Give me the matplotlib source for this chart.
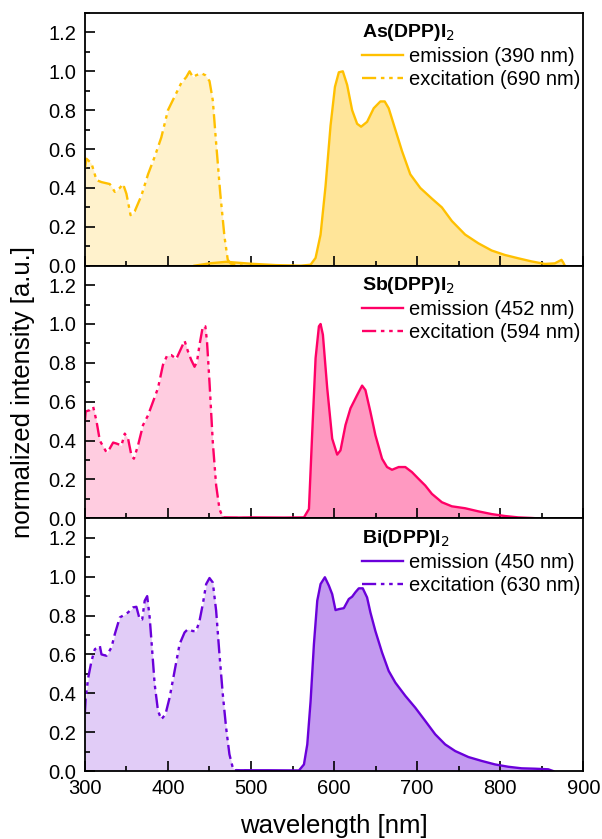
import matplotlib.pyplot as plt
import numpy as np
from matplotlib.ticker import MultipleLocator

plt.rcParams['font.family'] = ['Liberation Sans', 'DejaVu Sans']

# ---- As(DPP)I2 ----
as_exc_x = [300, 302, 308, 314, 320, 330, 336, 342, 346, 350, 355, 360, 368, 376, 384, 392, 400, 408,
            416, 422, 426, 430, 434, 440, 445, 450, 454, 458, 463, 468, 472, 476, 490]
as_exc_y = [0.50, 0.55, 0.526, 0.44, 0.43, 0.42, 0.38, 0.40, 0.42, 0.37, 0.26, 0.28, 0.36, 0.47, 0.56,
            0.66, 0.80, 0.87, 0.94, 0.97, 1.0, 0.97, 0.98, 0.99, 0.98, 0.95, 0.85, 0.63, 0.37, 0.15,
            0.03, 0.01, 0.0]
as_em_x = [432, 450, 470, 500, 530, 560, 571.7, 577.7, 583.7, 589.7, 595.7, 601, 605.7, 610.5, 615.7,
           621.7, 627.7, 632.5, 639.7, 647.7, 655.7, 660.9, 665.7, 673.7, 681.7, 691.7, 703.7, 717.7,
           729.7, 741.7, 757.7, 773.7, 789.7, 805.7, 821.7, 837.7, 853.7, 865.7, 873.7, 875.7, 877.7]
as_em_y = [0.0, 0.012, 0.02, 0.01, 0.003, 0.0, 0.005, 0.04, 0.16, 0.41, 0.72, 0.92, 0.995, 1.0, 0.93,
           0.80, 0.73, 0.715, 0.74, 0.81, 0.845, 0.845, 0.81, 0.70, 0.59, 0.47, 0.40, 0.345, 0.30, 0.23,
           0.16, 0.115, 0.078, 0.055, 0.038, 0.022, 0.009, 0.012, 0.03, 0.017, 0.0]

# ---- Sb(DPP)I2 ----
sb_exc_x = [300, 301, 306, 310, 314, 318, 326, 330, 334, 338, 344, 348, 352, 356, 359, 364, 370, 376,
            382, 388, 394, 399, 404, 410, 416, 420, 424, 428, 432, 435, 438, 442, 445, 447, 450, 454,
            458, 462, 466, 500]
sb_exc_y = [0.50, 0.55, 0.557, 0.574, 0.50, 0.40, 0.34, 0.36, 0.39, 0.385, 0.375, 0.436, 0.41, 0.324,
            0.307, 0.376, 0.48, 0.53, 0.60, 0.67, 0.79, 0.838, 0.84, 0.82, 0.876, 0.914, 0.86, 0.815,
            0.78, 0.807, 0.893, 0.988, 0.988, 0.91, 0.70, 0.39, 0.17, 0.048, 0.005, 0.0]
sb_em_x = [466, 500, 540, 563.7, 569.7, 573.7, 577.7, 581.7, 583.7, 586.5, 591.7, 597.7, 603.7, 607.7,
           613.7, 619.7, 623.7, 627.7, 633.7, 637.7, 643.7, 649.7, 657.7, 663.7, 669.7, 677.7, 685.7,
           693.7, 701.7, 709.7, 717.7, 729.7, 741.7, 757.7, 773.7, 789.7, 805.7, 821.7, 837.7, 845.7]
sb_em_y = [0.003, 0.005, 0.004, 0.005, 0.048, 0.445, 0.824, 0.988, 1.0, 0.945, 0.67, 0.41, 0.328, 0.35,
           0.48, 0.566, 0.60, 0.634, 0.683, 0.66, 0.548, 0.428, 0.307, 0.264, 0.25, 0.264, 0.264, 0.238,
           0.203, 0.169, 0.126, 0.083, 0.062, 0.052, 0.036, 0.022, 0.012, 0.005, 0.002, 0.0]

# ---- Bi(DPP)I2 ----
bi_exc_x = [300, 301, 304, 308, 312, 316, 318, 320, 326, 332, 336, 342, 346, 352, 358, 362, 366, 369,
            372, 375, 378, 381, 384, 388, 392, 397, 402, 408, 414, 420, 424, 430, 434, 438, 442, 446,
            450, 454, 458, 462, 466, 470, 474, 478, 482, 500]
bi_exc_y = [0.30, 0.378, 0.48, 0.567, 0.627, 0.636, 0.644, 0.60, 0.593, 0.636, 0.704, 0.79, 0.80, 0.816,
            0.842, 0.845, 0.78, 0.78, 0.876, 0.90, 0.79, 0.62, 0.447, 0.31, 0.266, 0.292, 0.378, 0.515,
            0.653, 0.713, 0.73, 0.72, 0.72, 0.773, 0.86, 0.962, 0.993, 0.97, 0.825, 0.60, 0.395, 0.223,
            0.086, 0.017, 0.005, 0.0]
bi_em_x = [482, 520, 557.7, 563.7, 567.7, 571.7, 575.7, 579.7, 583.7, 588.9, 593.7, 597.7, 601.7, 605.7,
           611.7, 617.7, 621.7, 625.7, 629.7, 634.5, 639.7, 643.7, 649.7, 657.7, 665.7, 673.7, 685.7,
           697.7, 709.7, 721.7, 733.7, 745.7, 761.7, 777.7, 793.7, 809.7, 825.7, 841.7, 857.7, 863.7]
bi_em_y = [0.004, 0.004, 0.003, 0.034, 0.137, 0.36, 0.653, 0.876, 0.962, 0.997, 0.954, 0.91, 0.828,
           0.833, 0.838, 0.885, 0.897, 0.92, 0.94, 0.94, 0.893, 0.816, 0.72, 0.61, 0.515, 0.455, 0.387,
           0.326, 0.258, 0.189, 0.137, 0.103, 0.072, 0.052, 0.034, 0.022, 0.014, 0.012, 0.009, 0.0]

names = ['As(DPP)I$_2$', 'Sb(DPP)I$_2$', 'Bi(DPP)I$_2$']
em_labels = ['emission (390 nm)', 'emission (452 nm)', 'emission (450 nm)']
exc_labels = ['excitation (690 nm)', 'excitation (594 nm)', 'excitation (630 nm)']
colors = ['#FFC000', '#FF0066', '#6A00DA']

exc_data = [(as_exc_x, as_exc_y), (sb_exc_x, sb_exc_y), (bi_exc_x, bi_exc_y)]
em_data = [(as_em_x, as_em_y), (sb_em_x, sb_em_y), (bi_em_x, bi_em_y)]

dashdotdot = (0, (6, 2, 1.5, 2, 1.5, 2))

fig, axes = plt.subplots(3, 1, figsize=(6.02, 8.39), dpi=100, sharex=True)
fig.subplots_adjust(left=0.141, right=0.969, top=0.9845, bottom=0.081, hspace=0)

for i, ax in enumerate(axes):
    c = colors[i]
    ex, ey = exc_data[i]
    mx, my = em_data[i]
    ax.fill_between(ex, ey, 0, color=c, alpha=0.2, lw=0)
    ax.fill_between(mx, my, 0, color=c, alpha=0.4, lw=0)
    l1, = ax.plot(mx, my, color=c, lw=1.7, label=em_labels[i])
    l2, = ax.plot(ex, ey, color=c, lw=1.7, ls=dashdotdot, label=exc_labels[i])
    ax.set_xlim(300, 900)
    ax.set_ylim(0, 1.3)
    ax.yaxis.set_major_locator(MultipleLocator(0.2))
    ax.yaxis.set_minor_locator(MultipleLocator(0.1))
    ax.xaxis.set_major_locator(MultipleLocator(100))
    ax.xaxis.set_minor_locator(MultipleLocator(50))
    ax.yaxis.set_major_formatter(plt.FuncFormatter(lambda v, p: '%.1f' % v))
    ax.tick_params(which='major', direction='in', length=7, width=1.2, labelsize=14.5, pad=6)
    ax.tick_params(which='minor', direction='in', length=3.5, width=1.2)
    for s in ax.spines.values():
        s.set_linewidth(1.3)
    leg = ax.legend(handles=[l1, l2], title=names[i], loc='upper right',
                    bbox_to_anchor=(1.03, 1.035), frameon=False, fontsize=14.5,
                    handlelength=2.0, handletextpad=0.3, labelspacing=0.2,
                    alignment='left', title_fontproperties={'weight': 'bold', 'size': 14})

axes[1].set_ylabel('normalized intensity [a.u.]', fontsize=18.5, labelpad=10)
axes[2].set_xlabel('wavelength [nm]', fontsize=18.5, labelpad=11)

fig.savefig('out.png', dpi=100)
